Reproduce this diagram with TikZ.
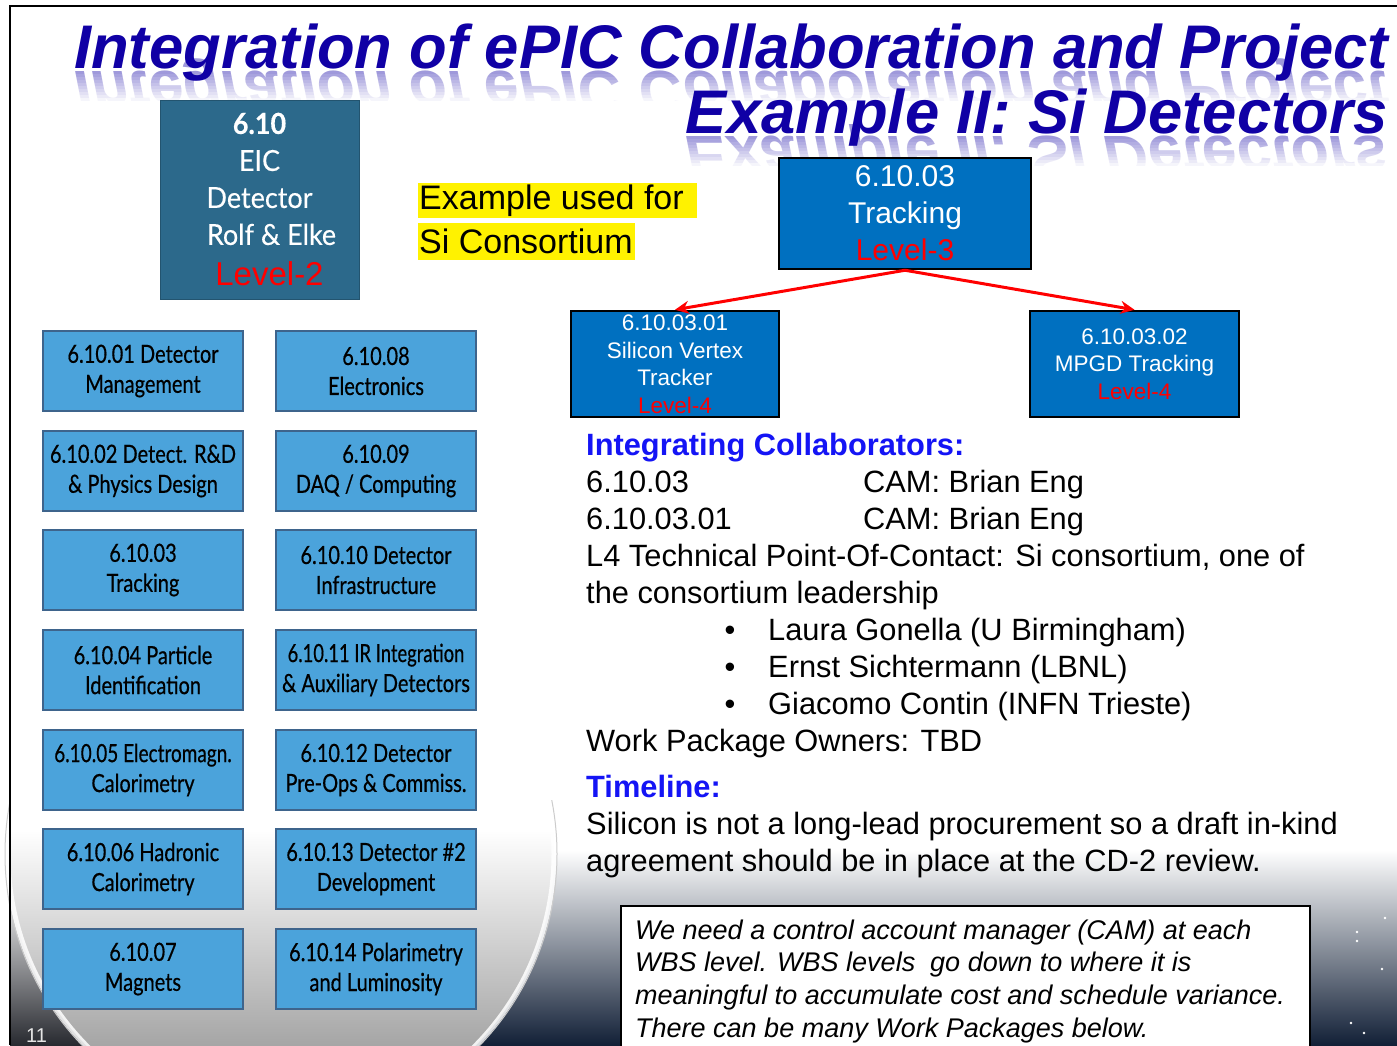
\documentclass[tikz,border=0pt]{standalone}
\usepackage{graphicx}
\usepackage{fontspec}
\setmainfont{Liberation Sans}
\newfontfamily\gill[FakeStretch=0.80,FakeBold=0.5]{Lato}
\newfontfamily\gillw[FakeStretch=0.93,FakeBold=0.3]{Lato}
\usetikzlibrary{arrows.meta}
\definecolor{titleblue}{RGB}{16,0,165}
\definecolor{ltwoblue}{RGB}{44,105,139}
\definecolor{trkblue}{RGB}{0,112,192}
\definecolor{gridblue}{RGB}{75,163,219}
\definecolor{gridedge}{RGB}{62,100,140}
\definecolor{hdrblue}{RGB}{20,20,245}
\definecolor{navy}{RGB}{18,32,55}
\definecolor{darkgr}{RGB}{40,42,48}
\newcommand\ttlfont{\bfseries\itshape\fontsize{61.6}{62}\selectfont}
\newcommand\sqz[2]{\scalebox{#1}[1]{#2}}
\begin{document}
\begin{tikzpicture}[x=1pt,y=-1pt,
  gridbox/.style={draw=gridedge, line width=1.5pt, fill=gridblue, minimum width=200pt, minimum height=80pt, inner sep=0pt, align=center, font=\gill\fontsize{25}{30}\selectfont},
  trkbox/.style={draw=black, line width=2.5pt, fill=trkblue, text=white, align=center, inner sep=0pt},
  bodytxt/.style={anchor=base west, inner sep=0pt, font=\fontsize{30.8}{37}\selectfont},
  hdrtxt/.style={anchor=base west, inner sep=0pt, text=hdrblue, font=\bfseries\fontsize{30.8}{37}\selectfont},
  notetxt/.style={anchor=base west, inner sep=0pt, font=\itshape\fontsize{27}{33}\selectfont},
  ttltxt/.style={inner sep=0pt, text=titleblue, font=\ttlfont},
  redarrow/.style={draw=red, line width=3pt, -{Stealth[length=14pt,width=13pt]}},
  hilite/.style={fill=yellow, anchor=west, inner xsep=1pt, inner ysep=0pt, font=\fontsize{34}{40}\selectfont}
]
\useasboundingbox (0,0) rectangle (1397,1045);
% background
\fill[white] (0,0) rectangle (1397,1045);
\shade[top color=white, bottom color=navy] (10,850) rectangle (1397,1045);
\shade[top color=white, bottom color=darkgr] (10,880) rectangle (300,1045);
\begin{scope}
  \clip (281,854) circle[radius=273];
  \fill[white] (0,570) rectangle (600,830);
  \shade[top color=white, bottom color=gray!70] (0,830) rectangle (600,1045);
\end{scope}
\begin{scope}
  \clip (0,800) rectangle (600,1045);
  \draw[white, line width=5pt, opacity=.85] (281,854) circle[radius=273];
  \draw[gray!40, line width=1pt] (281,854) circle[radius=276];
\end{scope}
\foreach \sx/\sy in {1357/932,1357/941,1382/969,1351/1023,1364/1033,1385/918}
  \fill[white] (\sx,\sy) circle[radius=1.3];
% title reflections
\node[ttltxt, anchor=base west, opacity=.4] (t1r) at (74,71) {\scalebox{1}[-1]{Integration of ePIC Collaboration and Project}};
\node[ttltxt, anchor=base east, opacity=.4] (t2r) at (1388,136) {\scalebox{1}[-1]{Example II: Si Detectors}};
\foreach \i [evaluate=\i as \op using \i/10] in {0,...,10} {
  \fill[white, opacity=\op] (0,71+3*\i) rectangle (1397,74+3*\i);
  \fill[white, opacity=\op] (0,136+3*\i) rectangle (1397,139+3*\i);
}
\fill[white] (0,103.5) rectangle (1397,124);
\fill[white] (0,168.5) rectangle (1397,190);
% title
\node[ttltxt, anchor=base west] (t1) at (74,68) {Integration of ePIC Collaboration and Project};
\node[ttltxt, anchor=base east] (t2) at (1388,133) {Example II: Si Detectors};
% frame
\draw[line width=2pt] (10,1045) -- (10,6) -- (1397,6);
% level-2 box
\node[draw=ltwoblue!80!black, line width=1pt, fill=ltwoblue, minimum width=199pt, minimum height=199pt, text=white, align=center, inner sep=0pt, font=\gillw\fontsize{29}{37}\selectfont] (l2) at (259.5,199.5)
 {{\bfseries 6.10}\\EIC\\Detector\\\hspace*{24pt}Rolf \& Elke\\[4pt]\hspace*{20pt}{\rmfamily\fontsize{33}{37}\selectfont\color{red}Level-2}};
% highlighted note
\node[hilite, minimum height=35pt] (ex1) at (418,200.5) {\makebox[277pt][l]{Example used for}};
\node[hilite, minimum height=37pt] (ex2) at (418,241.5) {\makebox[215pt][l]{Si Consortium}};
% tracking tree
\node[trkbox, minimum width=252pt, minimum height=111pt, font=\fontsize{30}{37}\selectfont] (trk) at (905,213.5)
 {6.10.03\\Tracking\\\textcolor{red}{Level-3}};
\node[trkbox, minimum width=208pt, minimum height=106pt, font=\fontsize{22.5}{27.5}\selectfont] (svt) at (675,364)
 {6.10.03.01\\Silicon Vertex\\Tracker\\\textcolor{red}{Level-4}};
\node[trkbox, minimum width=209pt, minimum height=106pt, font=\fontsize{22.5}{27.5}\selectfont] (mpgd) at (1134.5,364)
 {6.10.03.02\\MPGD Tracking\\\textcolor{red}{Level-4}};
\draw[redarrow] (trk.south) -- (svt.north);
\draw[redarrow] (trk.south) -- (mpgd.north);
% WBS grid
\node[gridbox] (g01) at (143,371) {6.10.01 Detector\\Management};
\node[gridbox] (g02) at (143,471) {6.10.02 Detect. R\&D\\\& Physics Design};
\node[gridbox] (g03) at (143,570) {6.10.03\\Tracking};
\node[gridbox] (g04) at (143,670) {6.10.04 Particle\\Identification};
\node[gridbox] (g05) at (143,770) {\sqz{0.95}{6.10.05 Electromagn.}\\Calorimetry};
\node[gridbox] (g06) at (143,869) {6.10.06 Hadronic\\Calorimetry};
\node[gridbox] (g07) at (143,969) {6.10.07\\Magnets};
\node[gridbox] (g08) at (376,371) {6.10.08\\Electronics};
\node[gridbox] (g09) at (376,471) {6.10.09\\DAQ / Computing};
\node[gridbox] (g10) at (376,570) {6.10.10 Detector\\Infrastructure};
\node[gridbox] (g11) at (376,670) {\sqz{0.92}{6.10.11 IR Integration}\\\& Auxiliary Detectors};
\node[gridbox] (g12) at (376,770) {6.10.12 Detector\\Pre-Ops \& Commiss.};
\node[gridbox] (g13) at (376,869) {6.10.13 Detector \#2\\Development};
\node[gridbox] (g14) at (376,969) {6.10.14 Polarimetry\\and Luminosity};
% right text
\node[hdrtxt] (ic) at (586,455) {Integrating Collaborators:};
\node[bodytxt] (a1) at (586,492) {6.10.03};
\node[bodytxt] (a2) at (863,492) {CAM: Brian Eng};
\node[bodytxt] (b1) at (586,529) {6.10.03.01};
\node[bodytxt] (b2) at (863,529) {CAM: Brian Eng};
\node[bodytxt] (c1) at (586,566) {L4 Technical Point-Of-Contact: Si consortium, one of};
\node[bodytxt] (c2) at (586,603) {the consortium leadership};
\node[bodytxt, anchor=base] (d1b) at (730,640) {•};
\node[bodytxt] (d1) at (768,640) {Laura Gonella (U Birmingham)};
\node[bodytxt, anchor=base] (d2b) at (730,677) {•};
\node[bodytxt] (d2) at (768,677) {Ernst Sichtermann (LBNL)};
\node[bodytxt, anchor=base] (d3b) at (730,714) {•};
\node[bodytxt] (d3) at (768,714) {Giacomo Contin (INFN Trieste)};
\node[bodytxt] (e1) at (586,751) {Work Package Owners: TBD};
\node[hdrtxt] (tl) at (586,797) {Timeline:};
\node[bodytxt] (f1) at (586,834) {Silicon is not a long-lead procurement so a draft in-kind};
\node[bodytxt] (f2) at (586,871) {agreement should be in place at the CD-2 review.};
% note box
\node[draw=black, line width=2pt, fill=white, minimum width=689pt, minimum height=150pt, anchor=north west, inner sep=0pt] (nb) at (620,905) {};
\node[notetxt] (n1) at (635,939) {We need a control account manager (CAM) at each};
\node[notetxt] (n2) at (635,971) {WBS level. WBS levels\ \ go down to where it is};
\node[notetxt] (n3) at (635,1004) {meaningful to accumulate cost and schedule variance.};
\node[notetxt] (n4) at (635,1037) {There can be many Work Packages below.};
% page number
\node[anchor=base west, inner sep=0pt, text=gray!20, font=\fontsize{20}{20}\selectfont] (pg) at (26,1042) {11};
\end{tikzpicture}
\end{document}
